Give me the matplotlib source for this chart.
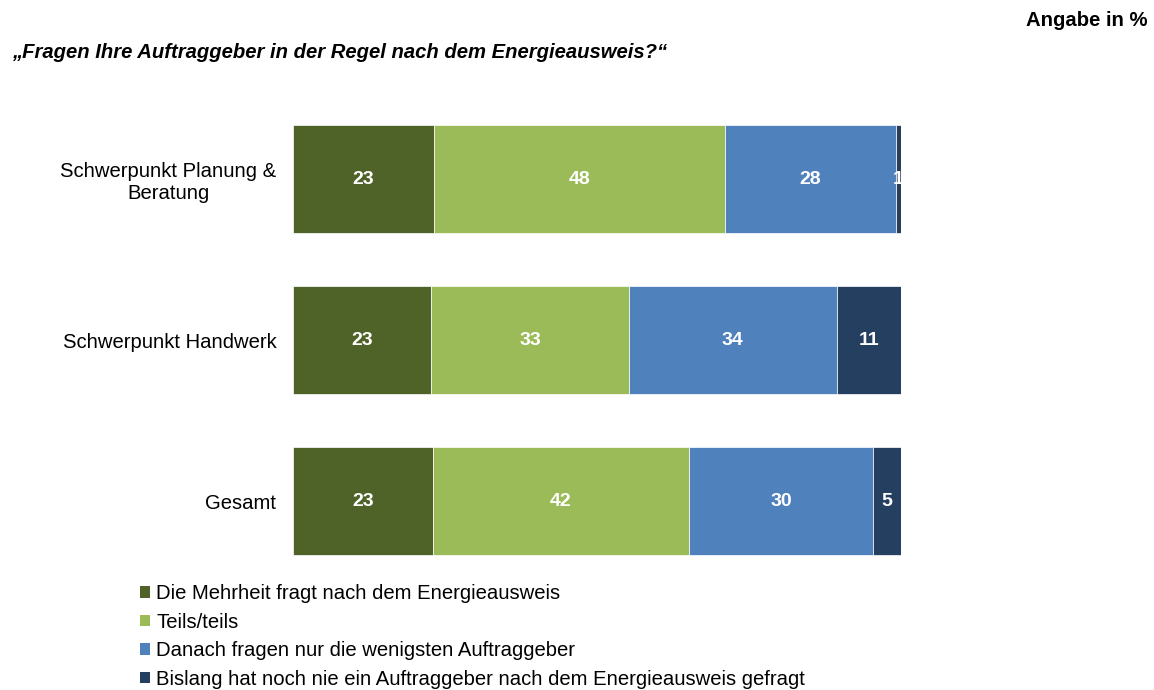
import matplotlib.pyplot as plt
from matplotlib.patches import Patch

plt.rcParams['font.family'] = ['Liberation Sans', 'DejaVu Sans']

groups = ["Schwerpunkt Planung &\nBeratung", "Schwerpunkt Handwerk", "Gesamt"]
series = ["Die Mehrheit fragt nach dem Energieausweis",
          "Teils/teils",
          "Danach fragen nur die wenigsten Auftraggeber",
          "Bislang hat noch nie ein Auftraggeber nach dem Energieausweis gefragt"]
mehrheit = [23.2, 22.7, 23.0]
teils = [47.9, 32.6, 42.1]
wenigste = [28.0, 34.1, 30.3]
nie = [0.9, 10.6, 4.6]
colors = ["#4F6228", "#9BBB59", "#4F81BD", "#243F60"]

fig = plt.figure(figsize=(11.54, 6.90), dpi=100)
ax = fig.add_axes([293 / 1154, 0.1572, 608 / 1154, 0.70])

data = [mehrheit, teils, wenigste, nie]
left = [0.0, 0.0, 0.0]
ypos = range(len(groups))
for vals, col in zip(data, colors):
    ax.barh(ypos, vals, left=left, height=0.665, color=col,
            edgecolor="white", linewidth=0.5)
    for y, v, l in zip(ypos, vals, left):
        ax.text(l + v / 2, y, f"{round(v)}", ha="center", va="center",
                color="white", fontsize=14, fontweight="bold")
    left = [a + b for a, b in zip(left, vals)]

ax.set_xlim(0, 100)
ax.set_ylim(2.5, -0.5)
ax.set_yticks(list(ypos))
ax.set_yticklabels(groups, fontsize=14.6)
for t in ax.get_yticklabels():
    t.set_multialignment("center")
    t.set_linespacing(1.22)
ax.tick_params(axis="y", length=0, pad=12)
ax.set_xticks([])
for s in ax.spines.values():
    s.set_visible(False)

fig.text(12 / 1154, 1 - 52 / 690, "„Fragen Ihre Auftraggeber in der Regel nach dem Energieausweis?“",
         fontsize=14.6, fontweight="bold", style="italic", ha="left", va="center")
fig.text(1148 / 1154, 1 - 20 / 690, "Angabe in %", fontsize=14.6, fontweight="bold",
         ha="right", va="center")

handles = [Patch(facecolor=c, edgecolor="none") for c in colors]
fig.legend(handles, series, loc="upper left", bbox_to_anchor=(140 / 1154, 1 - 584 / 690),
           frameon=False, fontsize=14.6, handlelength=0.5, handleheight=0.5,
           handletextpad=0.3, labelspacing=0.47, borderaxespad=0, borderpad=0)

fig.savefig("out.png", dpi=100)
